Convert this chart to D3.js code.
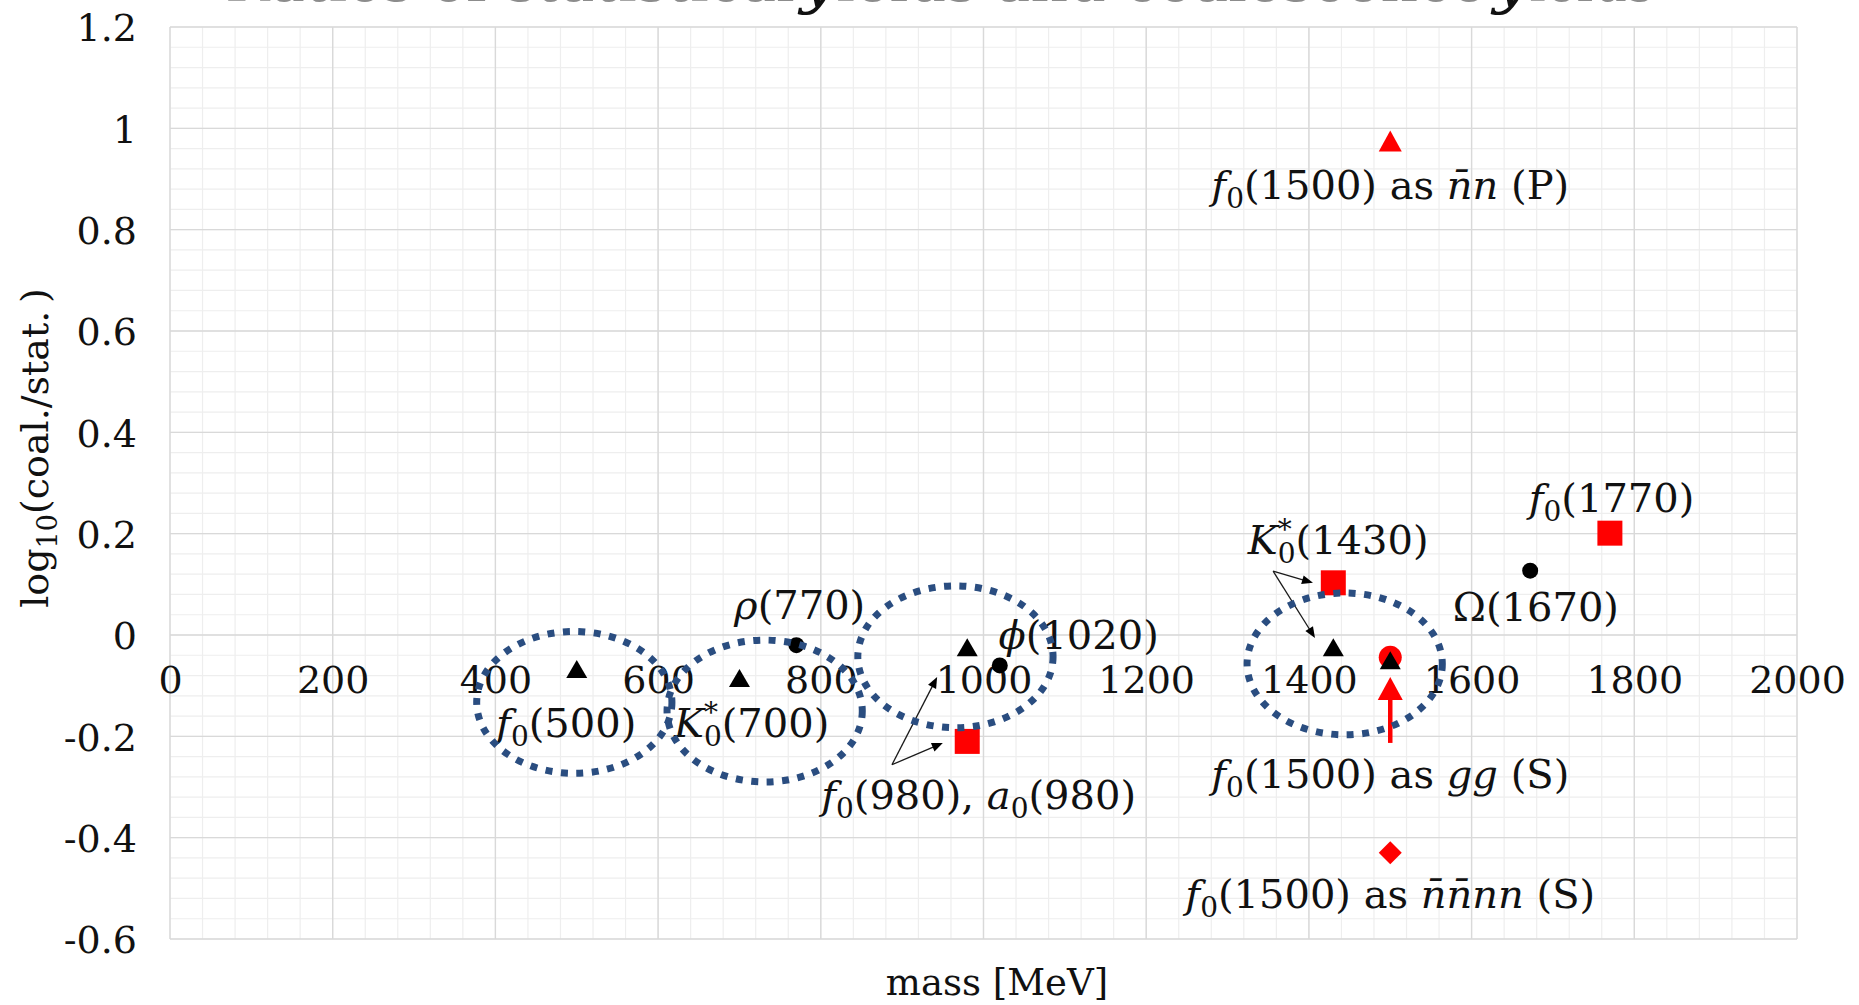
<!DOCTYPE html>
<html>
<head>
<meta charset="utf-8">
<script src="https://cdn.jsdelivr.net/npm/d3@7"></script>
<style>
  html, body { margin: 0; padding: 0; background: #fff; }
  svg { display: block; }
  .serif { font-family: "DejaVu Serif", "Liberation Serif", serif; }
</style>
</head>
<body>
<svg id="chart" width="1859" height="1005"></svg>
<script>
// ---------- data ----------
const xTickValues = [0, 200, 400, 600, 800, 1000, 1200, 1400, 1600, 1800, 2000];
const yTickValues = [1.2, 1, 0.8, 0.6, 0.4, 0.2, 0, -0.2, -0.4, -0.6];
const yTickLabels = ["1.2", "1", "0.8", "0.6", "0.4", "0.2", "0", "-0.2", "-0.4", "-0.6"];

// black triangles: f0(500), K0*(700), f0/a0(980), K0*(1430), f0(1500)
const triMass  = [500, 700, 980, 1430, 1500];
const triRatio = [-0.067, -0.085, -0.024, -0.024, -0.05];

// black circles: rho(770), phi(1020), Omega(1670)
const dotMass  = [770, 1020, 1672];
const dotRatio = [-0.02, -0.06, 0.127];

// red squares: f0(980)/a0(980), K0*(1430), f0(1770)
const sqMass  = [980, 1430, 1770];
const sqRatio = [-0.21, 0.103, 0.201];

// f0(1500) under different assumptions
const pMass = [1500], pRatio = [0.975];          // n̄n (P), red triangle
const gMass = [1500], gRatio = [-0.044];         // gg (S), red circle
const tMass = [1500], tRatio = [-0.43];          // n̄n̄nn (S), red diamond

// text labels (anchor = centre of the text, baseline)
const labelMass  = [774, 1117, 487, 715, 994, 1436, 1772, 1679, 1500, 1500, 1500];
const labelRatio = [0.031, -0.028, -0.201, -0.201, -0.343, 0.16, 0.243, 0.028, 0.86, -0.302, -0.538];
const labelParts = [
  [["ρ", "i"], ["(770)", "r"]],
  [["ϕ", "i"], ["(1020)", "r"]],
  [["f", "i"], ["0", "sub"], ["(500)", "r"]],
  [["K", "i"], ["0", "sub"], ["*", "sup"], ["(700)", "r"]],
  [["f", "i"], ["0", "sub"], ["(980), ", "r"], ["a", "i"], ["0", "sub"], ["(980)", "r"]],
  [["K", "i"], ["0", "sub"], ["*", "sup"], ["(1430)", "r"]],
  [["f", "i"], ["0", "sub"], ["(1770)", "r"]],
  [["Ω(1670)", "r"]],
  [["f", "i"], ["0", "sub"], ["(1500) as ", "r"], ["n\u0304n", "i"], [" (P)", "r"]],
  [["f", "i"], ["0", "sub"], ["(1500) as ", "r"], ["gg", "i"], [" (S)", "r"]],
  [["f", "i"], ["0", "sub"], ["(1500) as ", "r"], ["n\u0304n\u0304nn", "i"], [" (S)", "r"]]
];

// pointer arrows (from -> tip), in mass / ratio units
const arrowFrom = [[887.5, -0.256], [887.5, -0.256], [1356, 0.126], [1356, 0.126]];
const arrowTo   = [[943, -0.083],   [950, -0.213],   [1405, 0.103], [1407.5, -0.006]];

// red arrow from the gg label up to its point
const redArrowFrom = [1500, -0.213];
const redArrowTo   = [1500, -0.083];

// dotted ellipses grouping states (centre mass, centre ratio)
const groupMass  = [497, 731, 965.5, 1444];
const groupRatio = [-0.133, -0.15, -0.043, -0.057];
const groupHalfMass = 120, groupHalfRatio = 0.14;

// ---------- scales ----------
const svg = d3.select("#chart");
const x = d3.scaleLinear().domain([0, 2000]).range([170, 1797]);
const y = d3.scaleLinear().domain([-0.6, 1.2]).range([939, 27]);

// ---------- title (runs off the top edge) ----------
const title = svg.append("g").attr("class", "serif").attr("font-size", 54);
const titleBase = 1;
title.append("text").attr("x", 225).attr("y", titleBase)
  .attr("textLength", 570).attr("lengthAdjust", "spacingAndGlyphs")
  .attr("fill", "#8c8c8c").text("Ratios of statistical ");
title.append("text").attr("x", 800).attr("y", titleBase).attr("font-style", "italic")
  .attr("font-size", 64).attr("fill", "#111").text("y");
title.append("text").attr("x", 836).attr("y", titleBase)
  .attr("textLength", 650).attr("lengthAdjust", "spacingAndGlyphs")
  .attr("fill", "#8c8c8c").text("ields and coalescence ");
title.append("text").attr("x", 1493).attr("y", titleBase).attr("font-style", "italic")
  .attr("font-size", 64).attr("fill", "#111").text("y");
title.append("text").attr("x", 1529).attr("y", titleBase)
  .attr("textLength", 125).attr("lengthAdjust", "spacingAndGlyphs")
  .attr("fill", "#8c8c8c").text("ields");

// ---------- gridlines ----------
const grid = svg.append("g");
const minorX = d3.range(0, 2001, 40);
const minorY = d3.range(0, 46).map(i => -0.6 + i * 0.04);
grid.selectAll(".mx").data(minorX).join("line")
  .attr("x1", d => x(d)).attr("x2", d => x(d)).attr("y1", y(1.2)).attr("y2", y(-0.6))
  .attr("stroke", "#eeeeee").attr("stroke-width", 1.2);
grid.selectAll(".my").data(minorY).join("line")
  .attr("y1", d => y(d)).attr("y2", d => y(d)).attr("x1", x(0)).attr("x2", x(2000))
  .attr("stroke", "#eeeeee").attr("stroke-width", 1.2);
grid.selectAll(".Mx").data(xTickValues).join("line")
  .attr("x1", d => x(d)).attr("x2", d => x(d)).attr("y1", y(1.2)).attr("y2", y(-0.6))
  .attr("stroke", "#d9d9d9").attr("stroke-width", 1.4);
grid.selectAll(".My").data(yTickValues).join("line")
  .attr("y1", d => y(d)).attr("y2", d => y(d)).attr("x1", x(0)).attr("x2", x(2000))
  .attr("stroke", "#d9d9d9").attr("stroke-width", 1.4);

// ---------- axes ----------
const yAxis = svg.append("g").attr("transform", `translate(${x(0)},0)`)
  .call(d3.axisLeft(y).tickValues(yTickValues)
    .tickFormat((d, i) => yTickLabels[i]).tickSize(0).tickPadding(33));
yAxis.select(".domain").remove();
yAxis.selectAll("text").attr("class", "serif").attr("font-size", 38)
  .attr("fill", "#111").attr("dy", "0.36em");

const xAxis = svg.append("g").attr("transform", `translate(0,${y(0)})`)
  .call(d3.axisBottom(x).tickValues(xTickValues).tickFormat(d3.format("d"))
    .tickSize(0).tickPadding(31));
xAxis.select(".domain").remove();
xAxis.selectAll("text").attr("class", "serif").attr("font-size", 38)
  .attr("fill", "#111").attr("dy", "0.71em");

// axis titles
const yTitle = svg.append("text").attr("class", "serif").attr("font-size", 38)
  .attr("fill", "#111").attr("text-anchor", "middle")
  .attr("transform", `translate(48,${(y(1.2) + y(-0.6)) / 2 - 35}) rotate(-90)`);
yTitle.append("tspan").text("log");
yTitle.append("tspan").attr("font-size", 27).attr("dy", 9).text("10");
yTitle.append("tspan").attr("dy", -9).text("(coal./stat.\u2009)");

svg.append("text").attr("class", "serif").attr("font-size", 37).attr("fill", "#111")
  .attr("text-anchor", "middle").attr("x", 997).attr("y", 995).text("mass [MeV]");

// ---------- markers ----------
const triPath = (w, h) => `M0,${-h / 2}L${w / 2},${h / 2}L${-w / 2},${h / 2}Z`;
const diamondPath = r => `M0,${-r}L${r},0L0,${r}L${-r},0Z`;
const marks = svg.append("g");

// red circle sits beneath the black triangle at 1500 MeV
marks.selectAll(".gg").data(gMass).join("circle")
  .attr("cx", d => x(d)).attr("cy", (d, i) => y(gRatio[i])).attr("r", 11.5)
  .attr("fill", "#ff0000");

marks.selectAll(".sq").data(sqMass).join("path")
  .attr("transform", (d, i) => `translate(${x(d)},${y(sqRatio[i])})`)
  .attr("d", d3.symbol(d3.symbolSquare, 25 * 25)()).attr("fill", "#ff0000");

marks.selectAll(".tri").data(triMass).join("path")
  .attr("transform", (d, i) => `translate(${x(d)},${y(triRatio[i])})`)
  .attr("d", triPath(21, 18)).attr("fill", "#000");

marks.selectAll(".dot").data(dotMass).join("circle")
  .attr("cx", d => x(d)).attr("cy", (d, i) => y(dotRatio[i])).attr("r", 8)
  .attr("fill", "#000");

marks.selectAll(".ptri").data(pMass).join("path")
  .attr("transform", (d, i) => `translate(${x(d)},${y(pRatio[i])})`)
  .attr("d", triPath(23, 21)).attr("fill", "#ff0000");

marks.selectAll(".tdia").data(tMass).join("path")
  .attr("transform", (d, i) => `translate(${x(d)},${y(tRatio[i])})`)
  .attr("d", diamondPath(11.5)).attr("fill", "#ff0000");

// ---------- labels ----------
const labels = svg.append("g").attr("class", "serif").attr("font-size", 40).attr("fill", "#111");
labelParts.forEach((parts, li) => {
  const t = labels.append("text").attr("text-anchor", "middle")
    .attr("x", x(labelMass[li])).attr("y", y(labelRatio[li]));
  let shift = 0;      // current baseline offset
  let prev = null;
  parts.forEach(([txt, kind]) => {
    const s = t.append("tspan").text(txt);
    if (kind === "i") s.attr("font-style", "italic");
    if (kind === "sub") {
      s.attr("font-size", 28).attr("dy", 9 - shift); shift = 9;
    } else if (kind === "sup") {
      // star stacked above the subscript
      s.attr("font-size", 28).attr("dx", -17.8).attr("dy", -15 - shift); shift = -15;
    } else {
      s.attr("dy", -shift);
      if (prev === "sup") s.attr("dx", 3.8);
      shift = 0;
    }
    prev = kind;
  });
});

// ---------- pointer arrows ----------
const arrows = svg.append("g");
function headPoints(x1, y1, x2, y2, len, half) {
  const a = Math.atan2(y2 - y1, x2 - x1);
  const bx = x2 - len * Math.cos(a), by = y2 - len * Math.sin(a);
  const nx = -Math.sin(a) * half, ny = Math.cos(a) * half;
  return [[x2, y2], [bx + nx, by + ny], [bx - nx, by - ny]];
}
arrowFrom.forEach((f, i) => {
  const x1 = x(f[0]), y1 = y(f[1]), x2 = x(arrowTo[i][0]), y2 = y(arrowTo[i][1]);
  const pts = headPoints(x1, y1, x2, y2, 11, 4.5);
  const a = Math.atan2(y2 - y1, x2 - x1);
  arrows.append("line").attr("x1", x1).attr("y1", y1)
    .attr("x2", x2 - 8 * Math.cos(a)).attr("y2", y2 - 8 * Math.sin(a))
    .attr("stroke", "#1a1a1a").attr("stroke-width", 1.3);
  arrows.append("polygon").attr("points", pts.map(p => p.join(",")).join(" "))
    .attr("fill", "#000");
});
{
  const x1 = x(redArrowFrom[0]), y1 = y(redArrowFrom[1]);
  const x2 = x(redArrowTo[0]), y2 = y(redArrowTo[1]);
  arrows.append("line").attr("x1", x1).attr("y1", y1).attr("x2", x2).attr("y2", y2 + 20)
    .attr("stroke", "#ff0000").attr("stroke-width", 4.5);
  const pts = headPoints(x1, y1, x2, y2, 23, 12.5);
  arrows.append("polygon").attr("points", pts.map(p => p.join(",")).join(" "))
    .attr("fill", "#ff0000");
}

// ---------- dotted group ellipses ----------
svg.append("g").selectAll("ellipse").data(groupMass).join("ellipse")
  .attr("cx", d => x(d)).attr("cy", (d, i) => y(groupRatio[i]))
  .attr("rx", x(groupHalfMass) - x(0)).attr("ry", y(0) - y(groupHalfRatio))
  .attr("fill", "none").attr("stroke", "#2a4d80").attr("stroke-width", 7)
  .attr("stroke-dasharray", "7,8.5");
</script>
</body>
</html>
